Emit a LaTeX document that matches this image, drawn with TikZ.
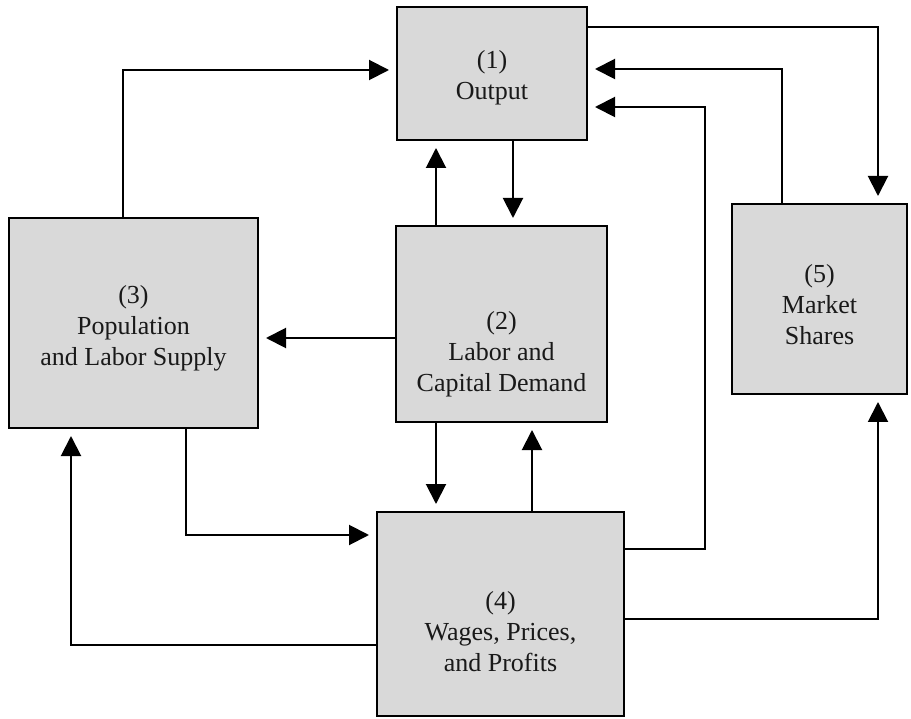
\documentclass[tikz,border=0pt]{standalone}
\usepackage{fontspec}
\setmainfont{Liberation Serif}
\usetikzlibrary{arrows.meta,calc}
\definecolor{boxgray}{RGB}{217,217,217}
\tikzset{
  box/.style={draw=black, fill=boxgray, line width=2pt, inner sep=0pt},
  lbl/.style={align=center, font=\fontsize{26pt}{31pt}\selectfont, text=black!90, inner sep=0pt},
  arr/.style={line width=2pt, -{Triangle[length=20pt,width=20pt]}, shorten >=7pt},
  ln/.style={line width=2pt}
}
\begin{document}
\begin{tikzpicture}[x=1pt,y=-1pt]
\useasboundingbox (0,0) rectangle (911,719);
% boxes
\node[box, minimum width=190pt, minimum height=133pt] (b1) at (492,73.5) {};
\node[box, minimum width=211pt, minimum height=196pt] (b2) at (501.5,324) {};
\node[box, minimum width=249pt, minimum height=210pt] (b3) at (133.5,323) {};
\node[box, minimum width=247pt, minimum height=204pt] (b4) at (500.5,614) {};
\node[box, minimum width=175pt, minimum height=190pt] (b5) at (819.5,299) {};
% labels
\node[lbl] (t1) at (492,78) {(1)\\Output};
\node[lbl] (t2) at (501.5,354) {(2)\\Labor and\\Capital Demand};
\node[lbl] (t3) at (133.5,328) {(3)\\Population\\and Labor Supply};
\node[lbl] (t4) at (500.5,632) {(4)\\Wages, Prices,\\and Profits};
\node[lbl] (t5) at (819.5,305) {(5)\\Market\\Shares};
% connectors
\draw[arr] ([xshift=-10.5pt]b3.north) |- ([yshift=3.5pt]b1.west);
\draw[arr] ([yshift=46.5pt]b1.east) -| ([xshift=58.5pt]b5.north);
\draw[arr] ([xshift=-37.5pt]b5.north) |- ([yshift=4.5pt]b1.east);
\draw[arr] ([yshift=65pt]b4.east) -- ++(80,0) |- ([yshift=-33.5pt]b1.east);
\draw[arr] ([xshift=21pt]b1.south) -- ([xshift=21pt]b1.south |- b2.north);
\draw[arr] ([xshift=-65.5pt]b2.north) -- ([xshift=-65.5pt]b2.north |- b1.south);
\draw[arr] ([yshift=-14pt]b2.west) -- ([yshift=-14pt]b2.west -| b3.east);
\draw[arr] ([xshift=-65.5pt]b2.south) -- ([xshift=-65.5pt]b2.south |- b4.north);
\draw[arr] ([xshift=31.5pt]b4.north) -- ([xshift=31.5pt]b4.north |- b2.south);
\draw[arr] ([xshift=52.5pt]b3.south) |- ([yshift=79pt]b4.west);
\draw[arr] ([yshift=-31pt]b4.west) -| ([xshift=-62.5pt]b3.south);
\draw[arr] ([yshift=-5pt]b4.east) -| ([xshift=58.5pt]b5.south);
\end{tikzpicture}
\end{document}
